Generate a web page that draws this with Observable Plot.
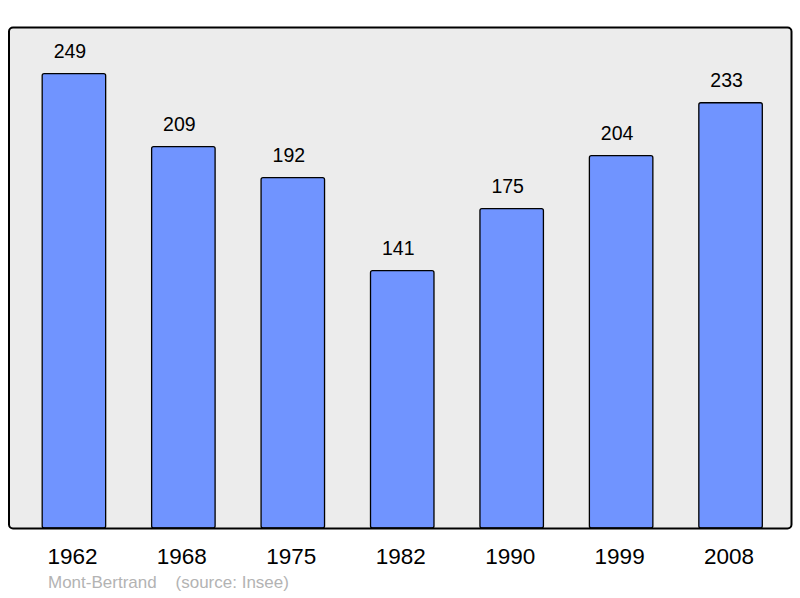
<!DOCTYPE html>
<html>
<head>
<meta charset="utf-8">
<script src="https://cdn.jsdelivr.net/npm/d3@7"></script>
<script src="https://cdn.jsdelivr.net/npm/@observablehq/plot@0.6"></script>
<style>
  html, body { margin: 0; padding: 0; background: #fff; }
  #wrap { position: relative; width: 800px; height: 598px; font-family: "Liberation Sans", Arial, sans-serif; }
  #caption { position: absolute; left: 48px; top: 573px; font-size: 17px; color: #b3b3b3; white-space: pre; line-height: 20px; }
  svg { display: block; }
</style>
</head>
<body>
<div id="wrap">
  <div id="chart"></div>
  <div id="caption">Mont-Bertrand    (source: Insee)</div>
</div>
<script>
const years = ["1962", "1968", "1975", "1982", "1990", "1999", "2008"];
const population = [249, 209, 192, 141, 175, 204, 233];

const data = years.map((y, i) => ({year: y, value: population[i]}));

const chart = Plot.plot({
  width: 800,
  height: 570,
  marginTop: 27,
  marginBottom: 42,
  marginLeft: 8.5,
  marginRight: 9,
  style: {fontFamily: "Liberation Sans, Arial, sans-serif", background: "transparent"},
  x: {domain: years, paddingInner: 0.42, paddingOuter: 0.285, align: 0.54, round: false, axis: null},
  y: {domain: [0, 274.5], axis: null},
  marks: [
    Plot.frame({fill: "#ececec", stroke: "none", rx: 4}),
    Plot.barY(data, {x: "year", y: "value", fill: "#7094ff", stroke: "#000", strokeWidth: 1.3, rx: 2}),
    Plot.text(data, {x: "year", y: "value", text: d => String(d.value), dy: -22, dx: -4.5, fontSize: 19.5, fill: "#000", lineAnchor: "middle"}),
    Plot.text(data, {x: "year", text: "year", frameAnchor: "bottom", dy: 28, dx: -2, fontSize: 22.5, fill: "#000", lineAnchor: "middle"}),
    Plot.frame({fill: "none", stroke: "#000", strokeWidth: 2, rx: 4})
  ]
});
document.getElementById("chart").appendChild(chart);
</script>
</body>
</html>
